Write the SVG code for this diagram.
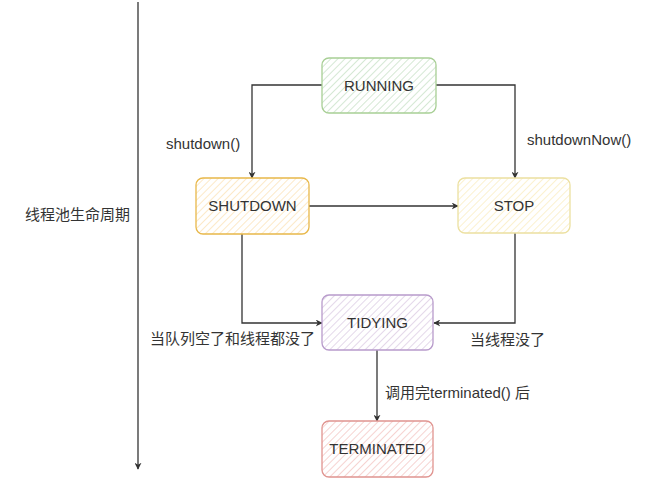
<svg xmlns="http://www.w3.org/2000/svg" width="650" height="497" viewBox="0 0 650 497">
<defs>
<style>
text{font-family:"Liberation Sans","Noto Sans CJK SC",sans-serif;font-size:15px;fill:#333}
.lbl{font-size:15px}
.box{stroke-width:1.3}
.edge{fill:none;stroke:#333;stroke-width:1.3}
</style>
<marker id="arr" viewBox="0 0 10 10" refX="9" refY="5" markerWidth="7" markerHeight="7" orient="auto" markerUnits="userSpaceOnUse">
<path d="M0,0 L10,5 L0,10 L3,5 Z" fill="#333"/>
</marker>
<pattern id="hg" width="5" height="5" patternUnits="userSpaceOnUse" patternTransform="rotate(45)"><rect width="5" height="5" fill="#fff"/><line x1="0" y1="0" x2="0" y2="5" stroke="#d5e8d4" stroke-width="2"/></pattern>
<pattern id="hy" width="5" height="5" patternUnits="userSpaceOnUse" patternTransform="rotate(45)"><rect width="5" height="5" fill="#fff"/><line x1="0" y1="0" x2="0" y2="5" stroke="#fce9c8" stroke-width="2"/></pattern>
<pattern id="hs" width="5" height="5" patternUnits="userSpaceOnUse" patternTransform="rotate(45)"><rect width="5" height="5" fill="#fff"/><line x1="0" y1="0" x2="0" y2="5" stroke="#fbf1cf" stroke-width="2"/></pattern>
<pattern id="hp" width="5" height="5" patternUnits="userSpaceOnUse" patternTransform="rotate(45)"><rect width="5" height="5" fill="#fff"/><line x1="0" y1="0" x2="0" y2="5" stroke="#e4d8ea" stroke-width="2"/></pattern>
<pattern id="hr" width="5" height="5" patternUnits="userSpaceOnUse" patternTransform="rotate(45)"><rect width="5" height="5" fill="#fff"/><line x1="0" y1="0" x2="0" y2="5" stroke="#f6d3d1" stroke-width="2"/></pattern>
</defs>
<rect width="650" height="497" fill="#fff"/>
<g id="connectors">
<line class="edge" x1="138" y1="2" x2="138" y2="469" marker-end="url(#arr)" stroke="#555"/>
<polyline class="edge" points="322,85 252,85 252,178" marker-end="url(#arr)"/>
<polyline class="edge" points="436,85 515,85 515,178" marker-end="url(#arr)"/>
<line class="edge" x1="309" y1="206" x2="458" y2="206" marker-end="url(#arr)"/>
<polyline class="edge" points="242,234 242,323 322,323" marker-end="url(#arr)"/>
<polyline class="edge" points="515,233 515,323 434,323" marker-end="url(#arr)"/>
<line class="edge" x1="377" y1="350" x2="377" y2="421" marker-end="url(#arr)"/>
<text class="lbl" x="166" y="149">shutdown()</text>
<text class="lbl" x="527" y="145">shutdownNow()</text>
<text class="lbl" x="150" y="344">当队列空了和线程都没了</text>
<text class="lbl" x="470" y="345">当线程没了</text>
<text class="lbl" x="385" y="398">调用完terminated() 后</text>
<text class="lbl" x="25" y="220">线程池生命周期</text>
</g>
<g id="running"><rect class="box" x="322" y="58" width="114" height="55" rx="7" fill="url(#hg)" stroke="#a8cf95"/><text x="379" y="91" text-anchor="middle">RUNNING</text></g>
<g id="shutdown"><rect class="box" x="196" y="178" width="113" height="56" rx="7" fill="url(#hy)" stroke="#e8b84a"/><text x="252.5" y="211" text-anchor="middle">SHUTDOWN</text></g>
<g id="stop"><rect class="box" x="458" y="178" width="112" height="55" rx="7" fill="url(#hs)" stroke="#ece0a0"/><text x="514" y="211" text-anchor="middle">STOP</text></g>
<g id="tidying"><rect class="box" x="322" y="295" width="111" height="55" rx="7" fill="url(#hp)" stroke="#b89bcb"/><text x="377.5" y="328" text-anchor="middle">TIDYING</text></g>
<g id="terminated"><rect class="box" x="322" y="421" width="111" height="56" rx="7" fill="url(#hr)" stroke="#e09490"/><text x="377.5" y="454" text-anchor="middle">TERMINATED</text></g>
</svg>
